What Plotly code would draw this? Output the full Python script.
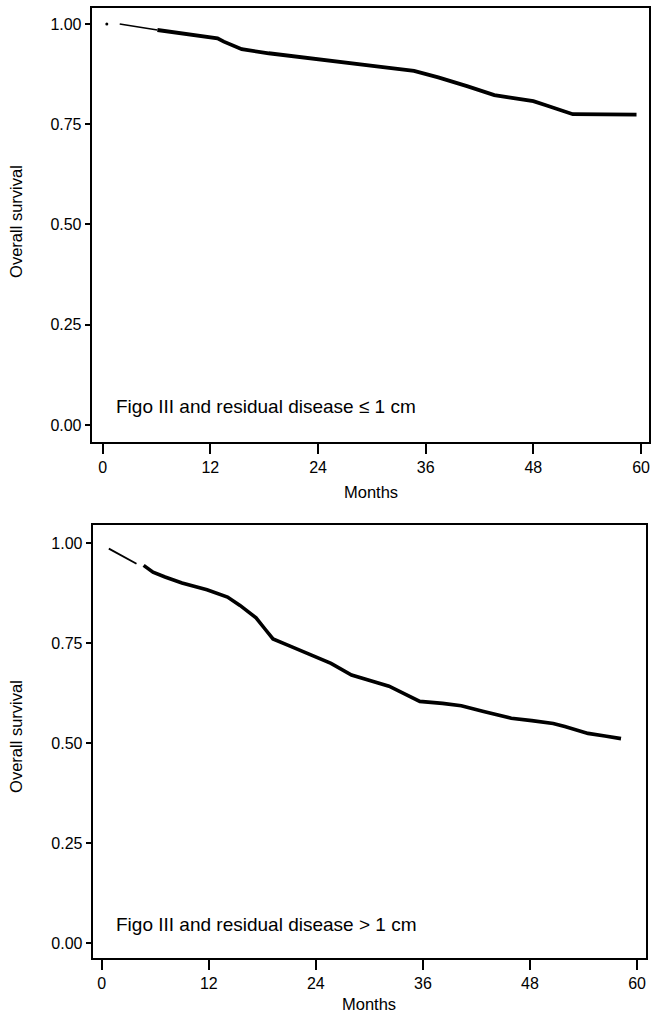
import plotly.graph_objects as go

# ---- Data ----
# Panel A: Figo III and residual disease <= 1 cm
months_a_dot = [0.46]
surv_a_dot = [1.00]
months_a_thin = [1.9, 4.0, 6.1]
surv_a_thin = [1.000, 0.993, 0.985]
months_a = [6.1, 9.8, 12.8, 13.5, 15.5, 18.5, 23.1, 27.7, 31.0, 34.7, 37.4,
            40.6, 43.65, 45.25, 48.0, 49.4, 52.4, 59.5]
surv_a = [0.985, 0.9725, 0.964, 0.956, 0.937, 0.927, 0.914, 0.900, 0.893, 0.883,
          0.867, 0.845, 0.8225, 0.817, 0.8075, 0.7975, 0.775, 0.774]

# Panel B: Figo III and residual disease > 1 cm
months_b_thin = [0.8, 2.4, 3.9]
surv_b_thin = [0.986, 0.967, 0.948]
months_b = [4.7, 5.75, 7.1, 9.0, 11.8, 14.1, 15.5, 17.3, 18.3, 19.2, 21.05, 23.8,
            25.7, 28.0, 29.9, 32.2, 34.0, 35.65, 38.2, 40.3, 42.8, 45.9, 48.2,
            50.6, 51.9, 54.5, 56.4, 58.2]
surv_b = [0.944, 0.927, 0.915, 0.900, 0.883, 0.865, 0.844, 0.813, 0.785, 0.760,
          0.743, 0.718, 0.699, 0.670, 0.657, 0.642, 0.622, 0.604, 0.599, 0.593,
          0.579, 0.562, 0.556, 0.549, 0.541, 0.524, 0.5175, 0.511]

x_ticks = [0, 12, 24, 36, 48, 60]
y_ticks = [0.00, 0.25, 0.50, 0.75, 1.00]
y_ticklabels = ["0.00", "0.25", "0.50", "0.75", "1.00"]
label_a = "Figo III and residual disease ≤ 1 cm"
label_b = "Figo III and residual disease > 1 cm"
x_title = "Months"
y_title = "Overall survival"

W, H = 651, 1017
FONT = "Liberation Sans, Arial, Helvetica, sans-serif"

fig = go.Figure()
# Panel A traces
fig.add_trace(go.Scatter(x=months_a_dot, y=surv_a_dot, mode="markers",
                         marker=dict(color="black", size=3), xaxis="x", yaxis="y"))
fig.add_trace(go.Scatter(x=months_a_thin, y=surv_a_thin, mode="lines",
                         line=dict(color="black", width=1.6), xaxis="x", yaxis="y"))
fig.add_trace(go.Scatter(x=months_a, y=surv_a, mode="lines",
                         line=dict(color="black", width=3.8), xaxis="x", yaxis="y"))
# Panel B traces
fig.add_trace(go.Scatter(x=months_b_thin, y=surv_b_thin, mode="lines",
                         line=dict(color="black", width=1.8), xaxis="x2", yaxis="y2"))
fig.add_trace(go.Scatter(x=months_b, y=surv_b, mode="lines",
                         line=dict(color="black", width=3.6), xaxis="x2", yaxis="y2"))


def px_x(p):
    return min(1.0, max(0.0, p / W))


def px_y(p):
    return min(1.0, max(0.0, 1 - p / H))


axis_common = dict(showline=True, linecolor="black", linewidth=2, mirror=True,
                   showgrid=False, zeroline=False, ticks="outside",
                   tickcolor="black", tickwidth=2, ticklabeloverflow="allow",
                   tickfont=dict(family=FONT, size=16, color="black"))

fig.update_layout(
    width=W, height=H,
    margin=dict(l=0, r=0, t=0, b=0),
    paper_bgcolor="white", plot_bgcolor="white",
    showlegend=False,
    font=dict(family=FONT, color="black"),
    xaxis=dict(domain=[px_x(92), 1.0], range=[-1.222, 60.89], anchor="y",
               tickvals=x_ticks, ticklen=10, **axis_common),
    yaxis=dict(domain=[px_y(442), px_y(7.5)], range=[-0.0424, 1.0411], anchor="x",
               tickvals=y_ticks, ticktext=y_ticklabels, ticklen=5, **axis_common),
    xaxis2=dict(domain=[px_x(93), px_x(648)], range=[-1.006, 61.0], anchor="y2",
                tickvals=x_ticks, ticklen=10, **axis_common),
    yaxis2=dict(domain=[px_y(958), px_y(525)], range=[-0.0375, 1.045], anchor="x2",
                tickvals=y_ticks, ticktext=y_ticklabels, ticklen=5, **axis_common),
)

ann_font = dict(family=FONT, size=19, color="black")
title_font = dict(family=FONT, size=16.5, color="black")
fig.add_annotation(x=1.3, y=0.045, xref="x", yref="y", text=label_a,
                   showarrow=False, xanchor="left", yanchor="middle", font=ann_font)
fig.add_annotation(x=1.4, y=0.046, xref="x2", yref="y2", text=label_b,
                   showarrow=False, xanchor="left", yanchor="middle", font=ann_font)
# axis titles
fig.add_annotation(x=px_x(372), y=px_y(492), xref="paper", yref="paper", text=x_title,
                   showarrow=False, xanchor="center", yanchor="middle", font=title_font)
fig.add_annotation(x=px_x(370), y=px_y(1004), xref="paper", yref="paper", text=x_title,
                   showarrow=False, xanchor="center", yanchor="middle", font=title_font)
fig.add_annotation(x=px_x(16), y=px_y(221), xref="paper", yref="paper", text=y_title,
                   textangle=-90, showarrow=False, xanchor="center", yanchor="middle",
                   font=title_font)
fig.add_annotation(x=px_x(16), y=px_y(736), xref="paper", yref="paper", text=y_title,
                   textangle=-90, showarrow=False, xanchor="center", yanchor="middle",
                   font=title_font)

fig.write_html("out.html",
               config={"displayModeBar": False},
               post_script="document.body.style.margin='0';"
                           "document.body.style.overflow='hidden';")
